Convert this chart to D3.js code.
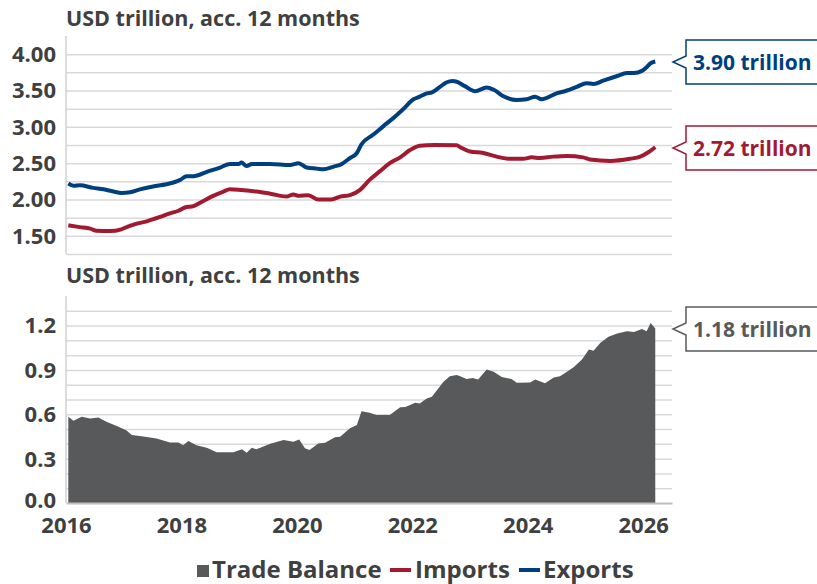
<!DOCTYPE html>
<html>
<head>
<meta charset="utf-8">
<script src="https://cdn.jsdelivr.net/npm/d3@7"></script>
<style>
  body { margin: 0; background: #fff; }
  svg { display: block; font-family: "Open Sans", sans-serif; font-weight: bold; }
</style>
</head>
<body>
<svg width="817" height="584"></svg>
<script>
// Exports (USD trillion, acc. 12 months)
const exportsT = [2016.04, 2016.13, 2016.24, 2016.47, 2016.65, 2016.82, 2016.96, 2017.11, 2017.28, 2017.51, 2017.74, 2017.98, 2018.09, 2018.21, 2018.44, 2018.67, 2018.84, 2019.0, 2019.04, 2019.13, 2019.22, 2019.54, 2019.88, 2020.03, 2020.17, 2020.35, 2020.46, 2020.63, 2020.78, 2020.92, 2021.04, 2021.12, 2021.32, 2021.5, 2021.67, 2021.85, 2022.02, 2022.13, 2022.25, 2022.34, 2022.48, 2022.59, 2022.7, 2022.77, 2022.91, 2023.09, 2023.29, 2023.41, 2023.58, 2023.81, 2023.98, 2024.13, 2024.24, 2024.5, 2024.68, 2024.85, 2025.02, 2025.14, 2025.32, 2025.55, 2025.72, 2025.84, 2025.98, 2026.06, 2026.12, 2026.21];
const exportsV = [2.22, 2.19, 2.195, 2.16, 2.14, 2.11, 2.09, 2.10, 2.14, 2.18, 2.21, 2.27, 2.32, 2.32, 2.38, 2.44, 2.49, 2.49, 2.51, 2.46, 2.49, 2.49, 2.475, 2.50, 2.44, 2.425, 2.415, 2.45, 2.49, 2.57, 2.64, 2.76, 2.89, 3.01, 3.12, 3.25, 3.38, 3.415, 3.46, 3.475, 3.55, 3.61, 3.63, 3.62, 3.56, 3.49, 3.54, 3.51, 3.42, 3.37, 3.38, 3.415, 3.38, 3.46, 3.50, 3.55, 3.60, 3.59, 3.64, 3.70, 3.74, 3.74, 3.77, 3.82, 3.87, 3.90];

// Imports
const importsT = [2016.04, 2016.24, 2016.42, 2016.53, 2016.76, 2016.96, 2017.05, 2017.2, 2017.4, 2017.63, 2017.8, 2017.95, 2018.06, 2018.21, 2018.38, 2018.55, 2018.73, 2018.84, 2019.04, 2019.3, 2019.54, 2019.82, 2019.94, 2020.03, 2020.2, 2020.37, 2020.6, 2020.75, 2020.92, 2021.09, 2021.26, 2021.44, 2021.61, 2021.79, 2021.96, 2022.13, 2022.37, 2022.77, 2022.83, 2023.0, 2023.23, 2023.46, 2023.69, 2023.92, 2024.07, 2024.21, 2024.44, 2024.68, 2024.96, 2025.08, 2025.43, 2025.77, 2025.95, 2026.09, 2026.21];
const importsV = [1.645, 1.62, 1.60, 1.57, 1.565, 1.59, 1.62, 1.66, 1.70, 1.76, 1.81, 1.845, 1.89, 1.91, 1.98, 2.05, 2.11, 2.14, 2.13, 2.11, 2.08, 2.04, 2.07, 2.05, 2.06, 2.00, 2.00, 2.04, 2.06, 2.13, 2.27, 2.39, 2.50, 2.58, 2.68, 2.74, 2.75, 2.745, 2.72, 2.66, 2.64, 2.59, 2.56, 2.56, 2.58, 2.57, 2.59, 2.60, 2.58, 2.55, 2.53, 2.56, 2.59, 2.65, 2.72];

// Trade balance
const balanceT = [2016.04, 2016.13, 2016.27, 2016.42, 2016.56, 2016.7, 2016.88, 2017.05, 2017.14, 2017.34, 2017.57, 2017.8, 2017.95, 2018.03, 2018.12, 2018.26, 2018.44, 2018.61, 2018.9, 2019.05, 2019.13, 2019.22, 2019.3, 2019.54, 2019.77, 2019.94, 2020.04, 2020.14, 2020.22, 2020.37, 2020.49, 2020.66, 2020.75, 2020.92, 2021.04, 2021.12, 2021.26, 2021.38, 2021.61, 2021.79, 2021.88, 2022.05, 2022.13, 2022.25, 2022.34, 2022.54, 2022.65, 2022.77, 2022.83, 2022.94, 2023.05, 2023.14, 2023.29, 2023.41, 2023.55, 2023.72, 2023.81, 2024.04, 2024.13, 2024.3, 2024.45, 2024.56, 2024.68, 2024.8, 2024.94, 2025.06, 2025.14, 2025.26, 2025.4, 2025.55, 2025.72, 2025.84, 2025.98, 2026.06, 2026.13, 2026.21];
const balanceV = [0.583, 0.556, 0.583, 0.572, 0.579, 0.549, 0.52, 0.49, 0.46, 0.45, 0.437, 0.41, 0.41, 0.39, 0.42, 0.39, 0.374, 0.343, 0.343, 0.363, 0.34, 0.374, 0.363, 0.40, 0.426, 0.414, 0.43, 0.37, 0.358, 0.403, 0.407, 0.444, 0.448, 0.505, 0.527, 0.62, 0.61, 0.595, 0.595, 0.647, 0.65, 0.678, 0.673, 0.707, 0.718, 0.82, 0.858, 0.865, 0.858, 0.838, 0.845, 0.836, 0.903, 0.887, 0.853, 0.838, 0.813, 0.815, 0.836, 0.81, 0.849, 0.858, 0.887, 0.92, 0.97, 1.038, 1.03, 1.083, 1.124, 1.147, 1.162, 1.157, 1.176, 1.162, 1.218, 1.18];

const xTicks = [2016, 2018, 2020, 2022, 2024, 2026];
const topTicks = [1.5, 2.0, 2.5, 3.0, 3.5, 4.0];
const bottomTicks = [0.0, 0.3, 0.6, 0.9, 1.2];
const calloutLabels = ["3.90 trillion", "2.72 trillion", "1.18 trillion"];
const legendItems = ["Trade Balance", "Imports", "Exports"];
const unitLabel = "USD trillion, acc. 12 months";

const colExports = "#003f7f", colImports = "#a21a32", colBalance = "#58595b";
const textCol = "#404040", gridCol = "#d9d9d9";

const svg = d3.select("svg");
const left = 66, right = 672;

const x = d3.scaleLinear().domain([2016, 2026.5]).range([left, right]);
const yTop = d3.scaleLinear().domain([1.25, 4.25]).range([254, 36]);
const yBot = d3.scaleLinear().domain([0, 1.4]).range([503, 296]);

// grid lines
svg.append("g")
    .attr("transform", `translate(${left},0)`)
    .call(d3.axisLeft(yTop).tickValues(d3.range(1.25, 4.01, 0.25)).tickSize(-(right - left)).tickFormat(""))
    .call(g => g.select(".domain").remove())
    .selectAll(".tick line").attr("stroke", gridCol).attr("stroke-width", 1.5);

svg.append("g")
    .attr("transform", `translate(${left},0)`)
    .call(d3.axisLeft(yBot).tickValues(d3.range(0.1, 1.31, 0.1)).tickSize(-(right - left)).tickFormat(""))
    .call(g => g.select(".domain").remove())
    .selectAll(".tick line").attr("stroke", gridCol).attr("stroke-width", 1.5);

// left axis lines
svg.append("line").attr("x1", left).attr("x2", left).attr("y1", yTop(4.25)).attr("y2", yTop(1.25))
    .attr("stroke", "#d0d0d0").attr("stroke-width", 1.5);
svg.append("line").attr("x1", left).attr("x2", left).attr("y1", yBot(1.4)).attr("y2", yBot(0))
    .attr("stroke", "#d0d0d0").attr("stroke-width", 1.5);

// y tick labels
svg.append("g").selectAll("text").data(topTicks).enter().append("text")
    .attr("x", 56).attr("y", d => yTop(d)).attr("dy", "0.36em")
    .attr("text-anchor", "end").attr("fill", textCol).style("font-size", "22px")
    .text(d => d.toFixed(2));

svg.append("g").selectAll("text").data(bottomTicks).enter().append("text")
    .attr("x", 56).attr("y", d => yBot(d)).attr("dy", d => d === 0 ? "0.24em" : "0.36em")
    .attr("text-anchor", "end").attr("fill", textCol).style("font-size", "22px")
    .text(d => d.toFixed(1));

// titles
svg.append("text").attr("x", left).attr("y", 26).attr("fill", textCol)
    .style("font-size", "21.5px").text(unitLabel);
svg.append("text").attr("x", left).attr("y", 283).attr("fill", textCol)
    .style("font-size", "21.5px").text(unitLabel);

// area
const balance = balanceT.map((t, i) => ({ t: t, v: balanceV[i] }));
svg.append("path").datum(balance)
    .attr("fill", colBalance)
    .attr("d", d3.area().x(d => x(d.t)).y0(yBot(0)).y1(d => yBot(d.v)));

// bottom axis
svg.append("g")
    .attr("transform", `translate(0,${yBot(0)})`)
    .call(d3.axisBottom(x).tickValues(xTicks).tickSize(0).tickFormat(d3.format("d")))
    .call(g => g.select(".domain").attr("stroke", "#bfbfbf").attr("stroke-width", 2))
    .selectAll("text").attr("fill", textCol).attr("dy", 0).attr("y", 30).style("font-size", "22px")
    .style("font-family", "'Open Sans', sans-serif").style("font-weight", "bold");

// lines
const line = d3.line().x(d => x(d.t)).y(d => yTop(d.v)).curve(d3.curveMonotoneX);
const imports = importsT.map((t, i) => ({ t: t, v: importsV[i] }));
const exportsD = exportsT.map((t, i) => ({ t: t, v: exportsV[i] }));

svg.append("path").datum(imports).attr("fill", "none").attr("stroke", colImports)
    .attr("stroke-width", 4).attr("stroke-linejoin", "round").attr("d", line);
svg.append("path").datum(exportsD).attr("fill", "none").attr("stroke", colExports)
    .attr("stroke-width", 4).attr("stroke-linejoin", "round").attr("d", line);

// callouts
function callout(yc, label, color) {
    const bx = 686, h = 44;
    const top = yc - h / 2, bot = yc + h / 2;
    svg.append("path")
        .attr("d", `M${bx},${top} L830,${top} L830,${bot} L${bx},${bot} L${bx},${yc + 6} L${bx - 13},${yc} L${bx},${yc - 6} Z`)
        .attr("fill", "#fff").attr("stroke", color).attr("stroke-width", 1.5);
    svg.append("text").attr("x", bx + 7).attr("y", yc).attr("dy", "0.36em")
        .attr("fill", color).style("font-size", "21px").text(label);
}
callout(62, calloutLabels[0], colExports);
callout(148, calloutLabels[1], colImports);
callout(329, calloutLabels[2], "#58595b");

// legend
const leg = svg.append("g");
leg.append("rect").attr("x", 197).attr("y", 565).attr("width", 12).attr("height", 12).attr("fill", colBalance);
leg.append("text").attr("x", 212).attr("y", 578).attr("fill", textCol).style("font-size", "24px").text(legendItems[0]);
leg.append("line").attr("x1", 390).attr("x2", 411).attr("y1", 570).attr("y2", 570).attr("stroke", colImports).attr("stroke-width", 4);
leg.append("text").attr("x", 415).attr("y", 578).attr("fill", textCol).style("font-size", "24px").text(legendItems[1]);
leg.append("line").attr("x1", 519).attr("x2", 540).attr("y1", 570).attr("y2", 570).attr("stroke", colExports).attr("stroke-width", 4);
leg.append("text").attr("x", 543).attr("y", 578).attr("fill", textCol).style("font-size", "24px").text(legendItems[2]);
</script>
</body>
</html>
